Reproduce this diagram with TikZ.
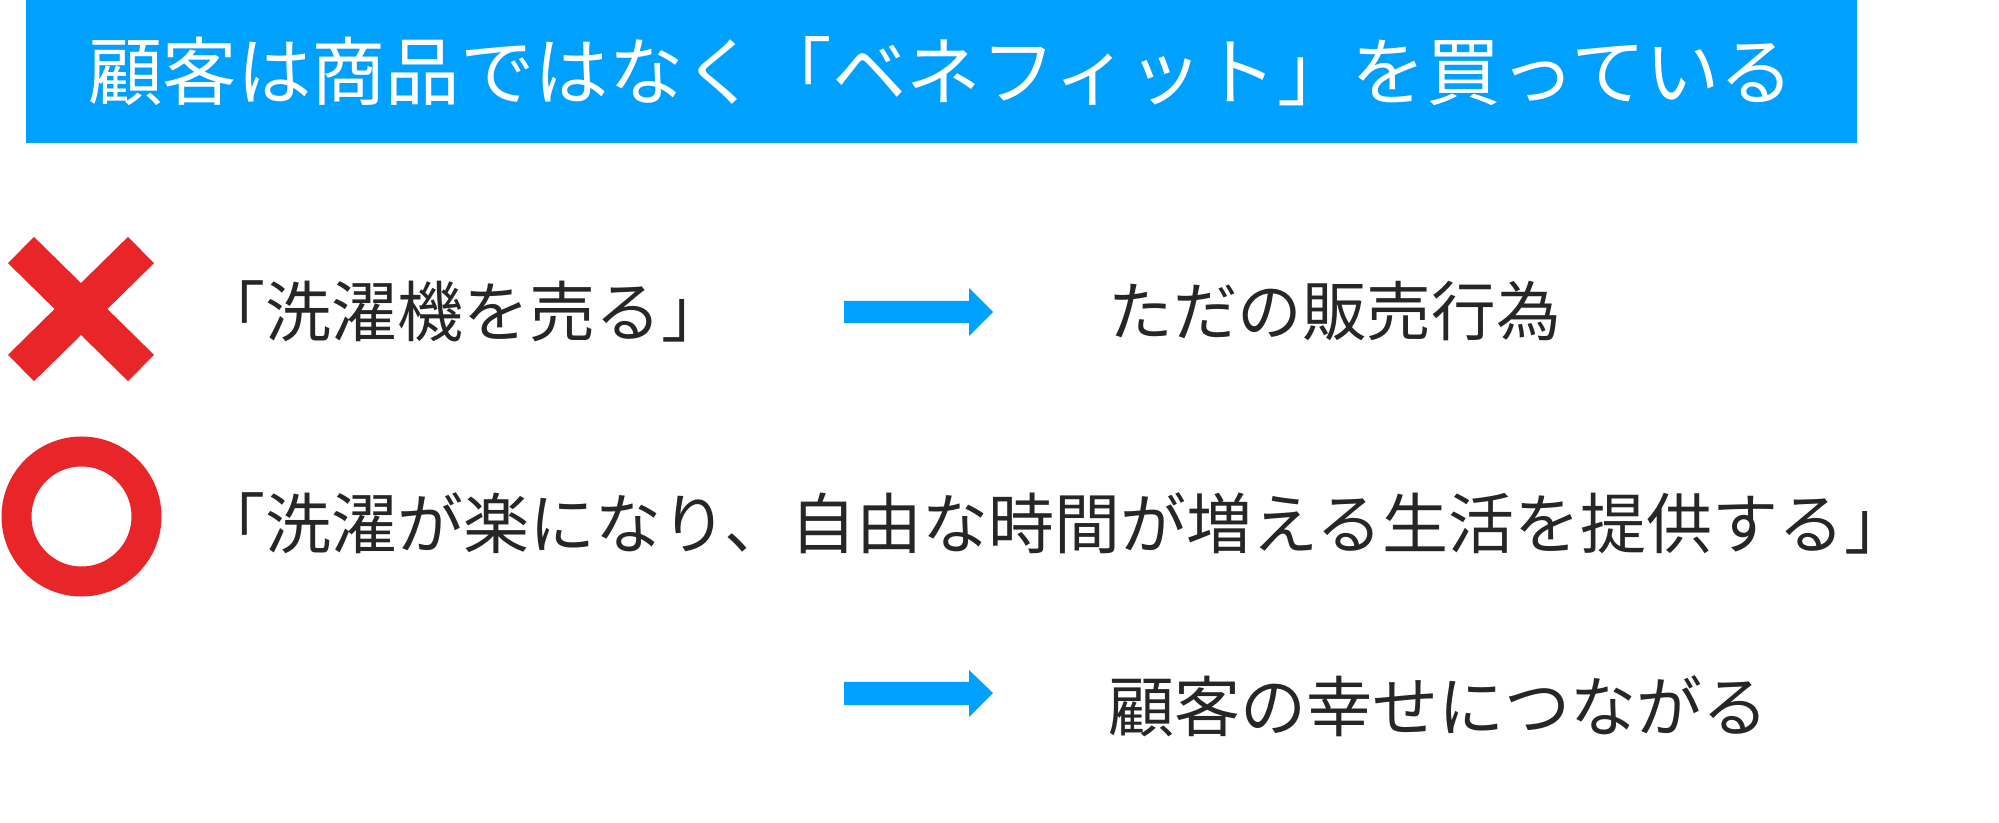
\documentclass[tikz,border=0pt]{standalone}
\usepackage{fontspec}
\setmainfont{Noto Sans CJK JP}
\definecolor{barblue}{RGB}{0,160,255}
\definecolor{markred}{RGB}{232,38,42}
\definecolor{ink}{RGB}{38,38,38}
\begin{document}
\begin{tikzpicture}[x=0.5pt,y=-0.5pt,
  titletext/.style={anchor=base west, inner sep=0, text=white, font=\fontsize{37.2pt}{37.2pt}\selectfont},
  bodytext/.style={anchor=base west, inner sep=0, text=ink, font=\fontsize{33pt}{33pt}\selectfont},
  smalltext/.style={anchor=base west, inner sep=0, text=ink, font=\fontsize{32.3pt}{32.3pt}\selectfont},
  blockarrow/.style={fill=barblue},
  crossarm/.style={draw=markred, line width=18.5pt, line cap=butt},
  ringmark/.style={draw=markred, line width=15pt}]
\useasboundingbox (0,0) rectangle (1999,823);
% title bar
\fill[barblue] (26,0) rectangle (1857,143);
\node[titletext] (title) at (88,99.6) {顧客は商品ではなく「ベネフィット」を買っている};
% cross mark
\draw[crossarm] (21,250) -- (141,368);
\draw[crossarm] (21,368) -- (141,250);
% circle mark
\draw[ringmark] (81.5,516.5) circle (65);
% row 1
\node[bodytext] (sell) at (199,336.6) {「洗濯機を売る」};
\fill[blockarrow] (844,301) -- (969,301) -- (969,288) -- (993,312) -- (969,336) -- (969,323) -- (844,323) -- cycle;
\node[smalltext] (act) at (1108,336) {ただの販売行為};
% row 2
\node[bodytext] (benefit) at (199,549) {「洗濯が楽になり、自由な時間が増える生活を提供する」};
% row 3
\fill[blockarrow] (844,682) -- (969,682) -- (969,670) -- (993,693) -- (969,717) -- (969,705) -- (844,705) -- cycle;
\node[bodytext] (happy) at (1108,732) {顧客の幸せにつながる};
\end{tikzpicture}
\end{document}
